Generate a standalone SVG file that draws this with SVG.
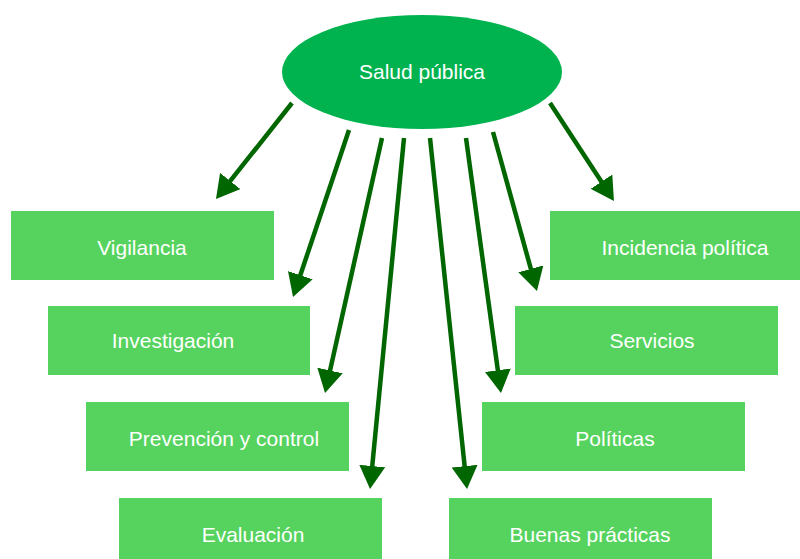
<svg xmlns="http://www.w3.org/2000/svg" width="800" height="559" viewBox="0 0 800 559">
<style>
.box{fill:#56D35E}
.lbl{fill:#ffffff;font-family:"Liberation Sans",Arial,Helvetica,sans-serif;font-size:21px;text-anchor:middle}
.arr{stroke:#006600;stroke-width:4.5;fill:none;marker-end:url(#ah)}
</style>
<defs>
<marker id="ah" markerUnits="userSpaceOnUse" viewBox="0 0 23 26" markerWidth="23" markerHeight="26" refX="13" refY="13" orient="auto">
<path d="M0,0 L23,13 L0,26 z" fill="#006600"/>
</marker>
</defs>
<rect width="800" height="559" fill="#ffffff"/>
<g id="connectors">
<line class="arr" x1="292" y1="103" x2="222.2" y2="191.2"/>
<line class="arr" x1="349" y1="130" x2="296.2" y2="287.5"/>
<line class="arr" x1="382" y1="138" x2="327.2" y2="383.2"/>
<line class="arr" x1="404" y1="138" x2="371" y2="479"/>
<line class="arr" x1="430" y1="138" x2="466" y2="479.1"/>
<line class="arr" x1="466" y1="138" x2="499.6" y2="383.1"/>
<line class="arr" x1="493" y1="132" x2="534.3" y2="281.4"/>
<line class="arr" x1="550" y1="103" x2="608.5" y2="192.6"/>
</g>
<g id="salud">
<ellipse cx="422" cy="72" rx="140" ry="57" fill="#00B34F"/>
<text class="lbl" x="422" y="79">Salud pública</text>
</g>
<g id="vigilancia">
<rect class="box" x="11" y="211" width="263" height="69"/>
<text class="lbl" x="142" y="255">Vigilancia</text>
</g>
<g id="investigacion">
<rect class="box" x="48" y="306" width="262" height="69"/>
<text class="lbl" x="173" y="348">Investigación</text>
</g>
<g id="prevencion">
<rect class="box" x="86" y="402" width="263" height="69"/>
<text class="lbl" x="224" y="446">Prevención y control</text>
</g>
<g id="evaluacion">
<rect class="box" x="119" y="498" width="263" height="69"/>
<text class="lbl" x="253" y="542">Evaluación</text>
</g>
<g id="incidencia">
<rect class="box" x="550" y="211" width="263" height="69"/>
<text class="lbl" x="685" y="255">Incidencia política</text>
</g>
<g id="servicios">
<rect class="box" x="515" y="306" width="263" height="69"/>
<text class="lbl" x="652" y="348">Servicios</text>
</g>
<g id="politicas">
<rect class="box" x="482" y="402" width="263" height="69"/>
<text class="lbl" x="615" y="446">Políticas</text>
</g>
<g id="buenas">
<rect class="box" x="449" y="498" width="263" height="69"/>
<text class="lbl" x="590" y="542">Buenas prácticas</text>
</g>
</svg>
